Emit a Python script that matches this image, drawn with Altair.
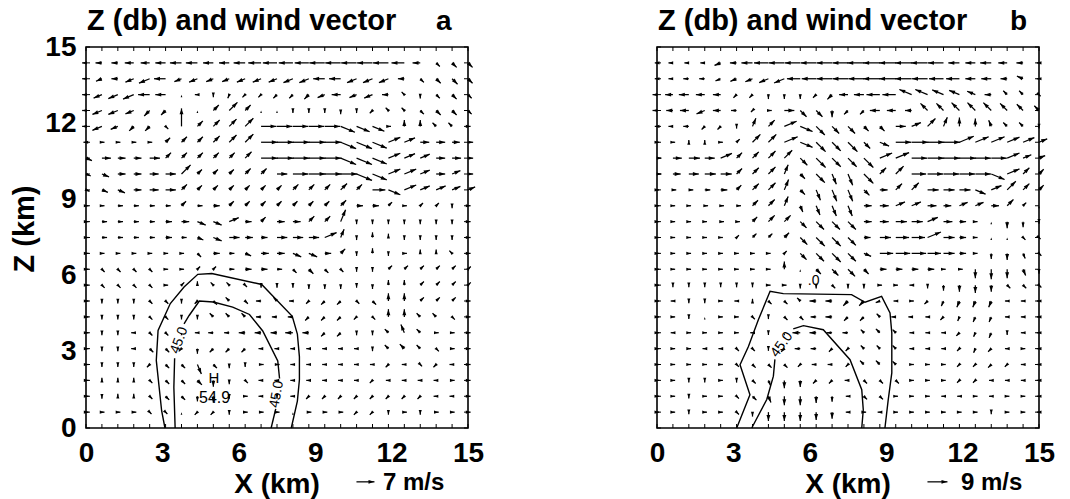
import re
import math
import altair as alt
import pandas as pd

# ---------------- layout constants ----------------
W, H = 382, 381          # plot area of each panel (px)
XMAX = 15.0              # km
STEP = 0.625             # grid spacing (km)
FONT = "Liberation Sans"

# ---------------- data ----------------
X_TICKS = [0, 3, 6, 9, 12, 15]
Y_TICKS = [0, 3, 6, 9, 12, 15]
TITLES = ["Z (db) and wind vector", "Z (db) and wind vector"]
LETTERS = ["a", "b"]
REF_SPEEDS = [7, 9]                 # m/s of the reference arrow
REF_LABELS = ["7 m/s", "9 m/s"]
REF_PX = [18.0, 20.0]               # drawn length of the reference arrow (px)

# wind vectors: one string per grid row, top row (z = 14.375 km) first,
# 25 columns (x = 0 .. 15 km every 0.625 km); token = compass direction + speed (m/s)
WIND_A = [
    "W1.5 W2.5 W2.5 W3.5 W3.5 W4 W4.5 W4.5 W4 W4 W4.5 W5 W5.5 W5.5 W5.5 W6 W6 W6 W6 W6 W5 W3 SE2 SE2.5 SE2.5",
    "W1.5 WSW2.5 W2.5 WSW3.5 WSW4.5 W4.5 WSW3 WSW3.5 WSW3 WSW3 WSW3.5 WSW3.5 WSW3.5 WSW4 WSW4 W4.5 W4.5 WSW4 WSW4 WSW4 W2.5 SE2 SE2.5 SE3 SE2.5",
    "W1.5 WSW3.5 WSW4 WSW4.5 W4.5 W4 . W1 S1 SSW1.5 SW1.5 SW1.5 SW2 SW2 SW2.5 WSW3 W3.5 WSW3 WSW3.5 W2.5 NW1.5 S1.5 SE2 SE2.5 SE2",
    "W1.5 WSW4 WSW4 WSW3.5 SW3 SW2.5 . . NE3 NE4.5 NE3 . . S1 S1 S1 S1.5 S1 SW1.5 NW1.5 NW1.5 SE2 SE2.5 SE2.5 SE2",
    "W1.5 WSW4 WSW3 SW2.5 SW2.5 SE1.5 N7 NE3 NE3.5 NE4 NE4.5 E6 E6 E6 E6 E6 ESE6 ESE5.5 ESE5 E1 N2.5 N2.5 NW2 NW2 E1",
    "W1 E1 E1 E1 E1 NE2.5 NE3 NE3 NE3.5 NE4 NE4.5 E6.5 E6.5 E6.5 E6.5 E6.5 ESE6.5 ESE6.5 ESE6 ENE5 ENE4.5 E3.5 E3.5 E3 E2",
    "ESE2.5 E3.5 E3 E3 E4 NE3 NE3 NE3 NE3 NE3 NE3.5 E6.5 E6.5 E6.5 E6.5 E6.5 ESE6.5 ESE6.5 ESE6 ENE5 ENE4.5 ENE4 E3.5 E3.5 E2",
    "ESE2 ESE3 E3 E3 E3.5 E4 NE5 NE2.5 NE2.5 NE2.5 NE3 NE3 E4 E6 E6.5 E6.5 E6.5 ESE6.5 ESE6 ENE5 ENE5 ENE4 E3.5 ENE3.5 E2",
    "ESE1.5 ESE2.5 ESE3 E3 E3.5 E4 NE3 NE2.5 NE2.5 NE2.5 NE2.5 NE2.5 NE2.5 NE3 NE3 NE3 NE3.5 NE3 E5 ESE5 ENE5 ENE4 ENE4 ENE3.5 ENE3",
    "E1 E1 E2 E2 E2 E2 NE2.5 E2 E2.5 NE2.5 NE2.5 NE2.5 NE2.5 NE2.5 NE2.5 NE2.5 NE3 E2.5 E2.5 NE2 E1 NE1.5 NE1.5 S1 E1",
    "E1 E2 E2 E2 E2 E2.5 E3 ESE3.5 ESE3.5 ENE4 E2.5 NE2.5 E3 E3 NE3 NE3 NNE5 S1 S1 S1 S1 S1 S1 S1 E1",
    "E1 E2 E2 E2 E2 E2.5 E2 ESE2.5 ESE3.5 E4 E3 E2.5 E4 E4 E4 ENE5 NNE3.5 S1 N2 N1.5 S1 S1 S1 S1 E1",
    "E1 E1 E1 E1 E1 E1 E1 SE2 E2.5 E2 ESE2.5 E3 E3 ESE3.5 ESE3.5 E2.5 NE2.5 S1 N2 S1 E1 N1.5 N1.5 NW1.5 E1",
    "E1 SE1.5 SE1.5 SE1.5 SE1.5 E1 E1 NE1.5 NE1.5 E2 E2.5 E2.5 E2 SE2 SE2.5 SE2 SE1.5 S1 S1 NE2 NE2 NE2 NE2 NE2 NE1.5",
    "E1 SE1.5 SE1.5 SE1.5 SE1.5 E1 NE1.5 N1.5 NW1.5 NW1.5 SE1 S1 S1 S1 S1.5 S1.5 S1.5 S1 S1.5 N2 N2 NE2 NE2 NE2 NE1.5",
    "E1 S1 S1 S1 SE1.5 SE1.5 S1 SW1.5 SE2 NW2 SE1.5 W2 NW2 W1.5 SW1.5 SW2 SW2 SE1.5 SE2 N3 N3 NE2 NE2 NE2 E1",
    "E1 S1 S1 S1 SE1.5 SE1.5 S1 S1 NW2 NW2 NW2 W2 W2 W2 SW2 SW2 SW2 SW1.5 SE1.5 N3 N3 NW2 NW2 SE1.5 E1",
    "E1 S1 S1 W1 SE1.5 SE1.5 . W1 W2 W2 W2.5 W2.5 W2.5 W3 W2.5 SW2 SW2 S1 S1 NW2 NNW3.5 NW2 E1 E1 E1",
    "E1 S1 S1 W1 SE2 SE2 SW1.5 S2 SW2 SW2 SW2 W1 W1 W1 W1 W1 W1 W1 S1 NW2 NW2.5 NW2 SE1.5 E1 E1",
    "E1 S1 S1 S1 SW1.5 SE2 SE2 SSE4 SE2 S1.5 S1 E1 E1 W1 W1 W1 W1 W1 W1 SW1.5 W1 SE1 SW1.5 W1 E1",
    "E1 N1 N1 N1 SE1.5 SE2 SE2 SE2.5 S2.5 S1.5 SE1.5 W1 W1 W1 W1 W1 W1 W1 SW1.5 W1 W1 W1 W1 E1 E1",
    "E1 S1 N1 N1 SE1.5 SE2 SE2 S2 S2.5 S1 E1 W1 S1 W1 SW1.5 SW1.5 SW1.5 SW1.5 SW1.5 SW1.5 SW1.5 SW1.5 W1 W1 E1",
    "E1 E1 E1 E1 SE1 SE1 . SW1.5 SW1.5 S1 E1 E1 E1 . E1 E1 E1 SW1.5 SW1.5 S1 E1 S1 E1 E1 E1",
]

WIND_B = [
    "W1 W2 W2 W2 WSW3 W3 W5 W6.5 W7 W7 W7 W7 W7 W7.5 W7.5 W7.5 W7.5 W7.5 W7 W5 W4.5 W5 W4 W3 W1",
    "W1 W2 W2.5 W2.5 WSW2.5 WSW3 WSW3.5 WSW4.5 WSW5 W6 W6.5 W7 W7 W7 W7.5 W7.5 W7.5 W7 W6.5 W6 W4.5 W4.5 W3 WNW3 W1",
    "W2 W3.5 W4.5 W4 W3.5 SW2 SW2 S2 S2 S2 SW2 SW3 W4 W4.5 W6 W6 WNW6 WNW6 WNW5.5 WNW5 WNW4 W3 NW2.5 NW2.5 SE1",
    "W2 W3 W4 WSW4 W3.5 W2.5 SW1 E1.5 E4.5 SE4 SE4 S3 SW2.5 SW2.5 W4.5 W4 W3 NW4.5 NW4.5 NW5 NW5 NW5 NW4.5 NW4 NW3",
    "W1 W2 W2.5 SW2 SW2 S1 NNE4 NE4 ENE6 ESE6 SE5.5 SE4.5 SE4.5 SE3 SE3 E4.5 ENE4.5 NE5 NNE4.5 N4 N3.5 NNW3 NW2.5 NW2.5 S1",
    "E1 E1 N1 N1 E1 NE2 NE5 NE5 ENE6.5 ESE6 SE6 SE5.5 SE6 SE4 ESE4.5 E7 E7.5 E7.5 E7.5 ENE7 ENE6.5 ENE6.5 ENE6 ENE5.5 ENE4",
    "E2 E4 E5 E4.5 ENE5.5 NE3.5 NE4 NE4.5 NE5 SE4.5 SE6 SE5.5 SE5.5 SE6 ENE6 ENE6.5 E7 E7.5 E7.5 E7.5 E7 E7 ENE6 ENE4 ENE3",
    "E2 E3.5 E4.5 E5 E5 NE3.5 NE4 NE4.5 NNE4.5 SE3 SE5.5 SSE5 SSE5.5 SE6 NE4 NE5 E6.5 E7 E7 E7 E7 ESE6.5 ENE6 NE4 NE3",
    "E1 E1.5 E2 E2.5 E3 NE3 NE4 NE4.5 NNE5 SE3 SSE5 SSE5.5 SSE5.5 SE3.5 E3.5 NE4 NE4.5 E5 E5 E5 ESE5 ENE5 NE5.5 NE4 NE3",
    "E1 E1 E1 E1.5 E1.5 E2 NE3.5 NE4 NNE4.5 SSE3 SSE4.5 SSE5 SSE5 E3.5 E4 ENE4.5 ENE4.5 E4 E3.5 ENE4 ENE4 E3.5 NE4 NE2 .",
    "E1 E1 E1 E1 E1.5 E1.5 NE3 NE4 NE4 SE4 SE5 SE5 SE5 E3.5 E4 E5 E5 ENE5 E4 E3 E1 . S3 S2.5 S1",
    "E1 E1 E1 E1 E1 NE1.5 NE2.5 NE2.5 NE3 SE4.5 SE5.5 SE5.5 SE5 E3 E5 E6 E6 ENE6.5 E5 E3 E1 . . SE1.5 SE1",
    "E1 E1 E1 E1 E1 E1 E1 E1 NE1.5 SE4 SE5 SE5.5 SE5 ESE3.5 E6 E6.5 E6.5 E6 E5 E3 E1 S2.5 S3 SSE2.5 SE1.5",
    "E1 E1 E1 E1 E1 E1 E1 E1 N3.5 . SE3 SE4 SE4.5 SE3 E3 E3 E3 E3 E1 E1.5 S4 S4.5 S4 SSE3 S2",
    "E1 S1 S1 S1 S1 S1 S1 E1 E1 S1.5 S1.5 SE2 S1.5 S1.5 E1 E1 W1 S1.5 S2.5 S3 S3.5 S3 SE2 SE2 SE1.5",
    "E1 W1 S1 S1 E1 W1 N1 SE2 SE2 NW2 W3 W3 SW3 SW3 WSW2 W1 E1 SW2 SSW2.5 SSW3 SSW3 SSW3 W1 W1 W1",
    "E1 E1 S1 . E1 E1 SE1.5 S1 SE2 SE2 W2.5 W3 SW2.5 SW2.5 NW2 W2 W1.5 W1 SW2 SSW2 SSW2.5 SSW2.5 W1 W1 W1",
    "E1 W1 E1 E1 E1 E1 W1 S1 . W3.5 W3 W2.5 W2.5 NW2 NW2.5 NW2 W1 W1 W1 SW2 SSW2 SSW2.5 S1 W1 W1",
    "E1 E1 E1 W1 W1 SE1.5 SE1.5 S1 SW2 W2.5 W2.5 SW2 SW1.5 NW2 NW2 NW2 W1 W1 W1 SW1.5 SSW2 SW2 W1 E1 W1",
    "E1 E1 E1 E1 E1 SE1.5 SE2 SE2 SE2 SW1.5 W2 W2 SW1.5 NW2.5 NW2.5 NW2 E1 E1 E1 SW1.5 SW1.5 SW2 SW1.5 W1 W1",
    "E1 E1 S1 S1 E1 S1 SE2 SSE2.5 S3.5 S3 SW2 SW2 W1.5 SE2 SE2 SE2 E1 E1 E1 SW1.5 SW1.5 W1 W1 W1 W1",
    "E1 E1 S1 E1 E1 SE1.5 SE2.5 SSE3 S4 S4 S3 S2.5 W1 SE2 SE2 E1 E1 E1 W1 W1 E1 W1 E1 E1 W1",
    "E1 E1 S1 E1 E1 SE1.5 S2 S4 S4 S4 S3.5 S3 W1 E1 W1 E1 E1 E1 E1 E1 E1 S1 E1 E1 W1",
]

# reflectivity contours (x km, z km); each list is one drawn line segment
CONTOURS_A = [
    [(3.1, 0.0), (2.97, 0.68), (2.76, 2.66), (2.83, 3.84), (3.31, 4.9), (3.85, 5.55), (4.39, 6.05),
     (4.94, 6.08), (6.9, 5.65), (8.1, 4.4), (8.3, 3.7), (8.38, 2.8), (8.38, 1.9), (8.3, 1.06), (8.06, 0.0)],
    [(3.5, 0.0), (3.45, 1.6), (3.48, 2.75)],
    [(3.85, 4.1), (4.05, 4.43), (4.45, 5.0), (5.0, 4.96), (5.76, 4.76), (6.42, 4.47), (6.94, 3.82),
     (7.53, 2.64), (7.6, 1.95)],
    [(7.45, 0.75), (7.27, 0.0)],
]
CONTOURS_B = [
    [(3.13, 0.0), (3.65, 1.31), (3.26, 2.49), (3.59, 3.21), (3.98, 4.26), (4.44, 5.38), (4.96, 5.29),
     (7.64, 5.25), (8.17, 4.95), (8.82, 5.18), (9.15, 4.53), (9.22, 3.74), (9.22, 2.17), (9.08, 1.12),
     (8.95, 0.0)],
    [(3.72, 0.0), (4.31, 1.12), (4.57, 2.04), (4.63, 2.7)],
    [(5.35, 3.9), (5.75, 4.03), (6.53, 3.87), (7.58, 2.69), (8.04, 1.51), (8.10, 0.72), (8.04, 0.0)],
]
# contour labels: (text, x km, z km, angle deg, font size)
LABELS_A = [("45.0", 3.66, 3.45, 290, 14), ("45.0", 7.49, 1.33, 280, 14),
            ("H", 5.02, 1.95, 0, 15), ("54.9", 5.05, 1.2, 0, 16)]
LABELS_B = [("45.0", 4.9, 3.28, 306, 14), (".0", 6.15, 5.8, 0, 14)]

COMPASS = {"E": 0, "ENE": 22.5, "NE": 45, "NNE": 67.5, "N": 90, "NNW": 112.5, "NW": 135,
           "WNW": 157.5, "W": 180, "WSW": 202.5, "SW": 225, "SSW": 247.5, "S": 270,
           "SSE": 292.5, "SE": 315, "ESE": 337.5}

HEAD = "M0,0L0.75,2.3L-0.75,2.3Z"   # arrow head with its tip at the symbol origin
KX = W / XMAX
KY = H / XMAX


def parse(tok):
    if tok == ".":
        return None, 0.0
    m = re.match(r"([A-Z]+)([\d.]+)$", tok)
    return COMPASS[m.group(1)], float(m.group(2))


def arrow_rec(x, z, d, speed, px_per_ms):
    if d is None:
        return dict(x=x, z=z, x2=x, z2=z, ang=0.0, hs=5.0, shaft=0)
    L = speed * px_per_ms
    th = math.radians(d)
    x2 = x + L * math.cos(th) / KX
    z2 = z + L * math.sin(th) / KY
    hs = 27.0 if L > 6 else 17.0
    return dict(x=x, z=z, x2=x2, z2=z2, ang=(90.0 - d) % 360.0, hs=hs, shaft=1)


def build_arrows(rows, px_per_ms, ref_speed):
    recs = []
    n = len(rows)
    for i, row in enumerate(rows):
        k = n - i
        toks = row.split()
        if len(toks) != 25:
            raise ValueError(f"row {k} has {len(toks)} tokens")
        for j, t in enumerate(toks):
            d, s = parse(t)
            recs.append(arrow_rec(j * STEP, k * STEP, d, s, px_per_ms))
    # reference arrow below the plot
    recs.append(arrow_rec(10.62, -2.12, 0.0, ref_speed, px_per_ms))
    return pd.DataFrame(recs)


def frame_ticks():
    t = 4.0
    recs = []
    for j in range(25):
        v = j * STEP
        recs.append(dict(x=v, z=0.0, x2=v, z2=t / KY))
        recs.append(dict(x=v, z=XMAX, x2=v, z2=XMAX - t / KY))
        recs.append(dict(x=0.0, z=v, x2=t / KX, z2=v))
        recs.append(dict(x=XMAX, z=v, x2=XMAX - t / KX, z2=v))
    return pd.DataFrame(recs)


def contour_df(segs):
    recs = []
    for c, seg in enumerate(segs):
        for o, (x, z) in enumerate(seg):
            recs.append(dict(c=c, o=o, x=x, z=z))
    return pd.DataFrame(recs)


SCALE = alt.Scale(domain=[0, XMAX], nice=False, zero=False)


def x_axis():
    return alt.Axis(values=X_TICKS, format="d", labelFont=FONT, labelFontSize=28,
                    labelFontWeight="bold", labelColor="black", labelPadding=11,
                    labelFlush=False, labelOverlap=False, ticks=False, domain=False,
                    grid=False, title=None)


def y_axis():
    return alt.Axis(values=Y_TICKS, format="d", labelFont=FONT, labelFontSize=28,
                    labelFontWeight="bold", labelColor="black", labelPadding=10,
                    labelFlush=False, labelOverlap=False, ticks=False, domain=False,
                    grid=False, title=None)


def text_layer(txt, x, y, size, align="left", angle=0, weight="bold", baseline="alphabetic"):
    return alt.Chart(pd.DataFrame({"t": [txt]})).mark_text(
        font=FONT, fontSize=size, fontWeight=weight, color="black", align=align,
        baseline=baseline, angle=angle
    ).encode(x=alt.value(x), y=alt.value(y), text="t:N")


def panel(idx, rows, contours, labels, show_y):
    px_per_ms = REF_PX[idx] / REF_SPEEDS[idx]
    df = build_arrows(rows, px_per_ms, REF_SPEEDS[idx])
    yax = y_axis() if show_y else None

    def X(f):
        return alt.X(f, type="quantitative", scale=SCALE, axis=x_axis())

    def Y(f):
        return alt.Y(f, type="quantitative", scale=SCALE, axis=yax)

    base = alt.Chart(df)
    shafts = base.transform_filter("datum.shaft == 1").mark_rule(
        color="black", strokeWidth=1.25).encode(x=X("x"), y=Y("z"), x2="x2", y2="z2")
    heads = base.mark_point(shape=HEAD, filled=True, color="black", opacity=1,
                            strokeWidth=0).encode(
        x=X("x2"), y=Y("z2"),
        angle=alt.Angle("ang:Q", scale=None),
        size=alt.Size("hs:Q", scale=None))
    ticks = alt.Chart(frame_ticks()).mark_rule(color="black", strokeWidth=1.0).encode(
        x=X("x"), y=Y("z"), x2="x2", y2="z2")
    cont = alt.Chart(contour_df(contours)).mark_line(
        color="black", strokeWidth=1.4, interpolate="linear").encode(
        x=X("x"), y=Y("z"), detail="c:N", order="o:Q")

    layers = [ticks, cont, shafts, heads]
    for (txt, lx, lz, ang, fs) in labels:
        layers.append(
            alt.Chart(pd.DataFrame({"t": [txt], "x": [lx], "z": [lz]})).mark_text(
                font=FONT, fontSize=fs, color="#000000", fill="#000000", angle=ang,
                baseline="middle", align="center").encode(x=X("x"), y=Y("z"), text="t:N"))

    # titles and annotations (pixel offsets relative to the plot area)
    layers.append(text_layer(TITLES[idx], 1, -17, 29))
    layers.append(text_layer(LETTERS[idx], 350 if idx == 0 else 353, -17, 28))
    layers.append(text_layer("X (km)", W / 2, 446, 28, align="center"))
    layers.append(text_layer(REF_LABELS[idx], 297 if idx == 0 else 304, 443, 24))
    if show_y:
        layers.append(text_layer("Z (km)", -52, 182, 29, align="center", angle=270))

    return alt.layer(*layers).properties(width=W, height=H)


pa = panel(0, WIND_A, CONTOURS_A, LABELS_A, True)
pb = panel(1, WIND_B, CONTOURS_B, LABELS_B, False)

chart = alt.hconcat(pa, pb, spacing=189, bounds="flush").configure_view(
    stroke="black", strokeWidth=1.6
).properties(padding={"left": 10, "top": 6, "right": 0, "bottom": 0}, background="white")

chart.save("out.html", embed_options={"renderer": "svg", "actions": False})
